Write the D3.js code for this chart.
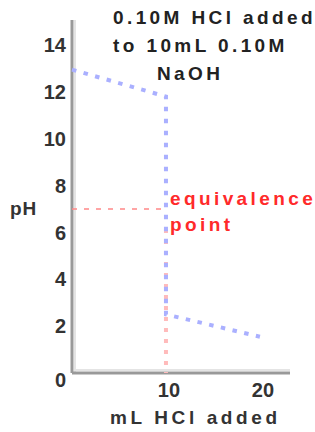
<!DOCTYPE html>
<html><head><meta charset="utf-8">
<script src="https://cdn.jsdelivr.net/npm/d3@7"></script>
<style>
html,body{margin:0;padding:0;background:#fff;}
text{font-family:"Liberation Sans",Arial,sans-serif;font-weight:bold;}
</style></head>
<body>
<svg id="c" width="315" height="432"></svg>
<script>
const volumes = [0, 10, 10, 20];
const phValues = [12.95, 11.8, 2.5, 1.55];
const eqVolume = 10;
const eqPH = 7;
const yTicks = [0, 2, 4, 6, 8, 10, 12, 14];
const xTicks = [10, 20];
const titleLines = ["0.10M HCl added", "to 10mL 0.10M", "NaOH"];
const eqLabel = ["equivalence", "point"];

const svg = d3.select("#c");
const x = d3.scaleLinear().domain([0, 23.2]).range([72, 290]);
const y = d3.scaleLinear().domain([0, 14]).range([373, 45]);

// axes lines
svg.append("line").attr("x1", x(0)).attr("x2", x(0)).attr("y1", 20).attr("y2", y(0))
  .attr("stroke", "#999").attr("stroke-width", 3);
svg.append("line").attr("x1", x(0)+3).attr("x2", x(0)+3).attr("y1", 20).attr("y2", y(0))
  .attr("stroke", "#e4e4e4").attr("stroke-width", 2);
svg.append("line").attr("x1", x(0)).attr("x2", 290).attr("y1", y(0)).attr("y2", y(0))
  .attr("stroke", "#999").attr("stroke-width", 3);
svg.append("line").attr("x1", x(0)+4).attr("x2", 290).attr("y1", y(0)-3).attr("y2", y(0)-3)
  .attr("stroke", "#e4e4e4").attr("stroke-width", 2);

// y tick labels
svg.append("g").selectAll("text").data(yTicks).join("text")
  .attr("x", 66).attr("y", d => y(d) + (d === 0 ? 7 : 0)).attr("dy", "0.36em")
  .attr("text-anchor", "end").attr("font-size", 20).attr("fill", "#333")
  .text(d => d);

// x tick labels
svg.append("g").selectAll("text").data(xTicks).join("text")
  .attr("x", d => x(d) + 3).attr("y", 390).attr("dy", "0.36em")
  .attr("text-anchor", "middle").attr("font-size", 20).attr("fill", "#333")
  .text(d => d);

// equivalence guide lines
svg.append("line").attr("x1", x(0)).attr("x2", x(eqVolume)).attr("y1", y(eqPH)).attr("y2", y(eqPH))
  .attr("stroke", "#f88").attr("stroke-width", 1.5).attr("stroke-dasharray", "5,7");
svg.append("line").attr("x1", x(eqVolume)).attr("x2", x(eqVolume)).attr("y1", y(eqPH) + 20).attr("y2", y(0))
  .attr("stroke", "#fbb").attr("stroke-width", 4).attr("stroke-dasharray", "4,7");

// titration curve
const line = d3.line().x((d, i) => x(volumes[i])).y(d => y(d));
svg.append("path").datum(phValues).attr("d", line)
  .attr("fill", "none").attr("stroke", "#aab0ff").attr("stroke-width", 4)
  .attr("stroke-dasharray", "4.5,7.5");

// title
svg.append("g").selectAll("text").data(titleLines).join("text")
  .attr("x", (d, i) => i === 2 ? 157 : 113).attr("y", (d, i) => 17 + i * 28).attr("dy", "0.36em")
  .attr("font-size", 19).attr("fill", "#222").attr("letter-spacing", 3.4)
  .text(d => d);

// equivalence label
svg.append("g").selectAll("text").data(eqLabel).join("text")
  .attr("x", 170).attr("y", (d, i) => 198 + i * 26).attr("dy", "0.36em")
  .attr("font-size", 19).attr("fill", "#ff2a2a").attr("letter-spacing", 3.4)
  .text(d => d);

// axis titles
svg.append("text").attr("x", 10).attr("y", 208).attr("dy", "0.36em")
  .attr("font-size", 19).attr("fill", "#333").attr("letter-spacing", 1).text("pH");
svg.append("text").attr("x", 110).attr("y", 417).attr("dy", "0.36em")
  .attr("font-size", 19).attr("fill", "#333").attr("letter-spacing", 3.6).text("mL HCl added");
</script>
</body></html>
